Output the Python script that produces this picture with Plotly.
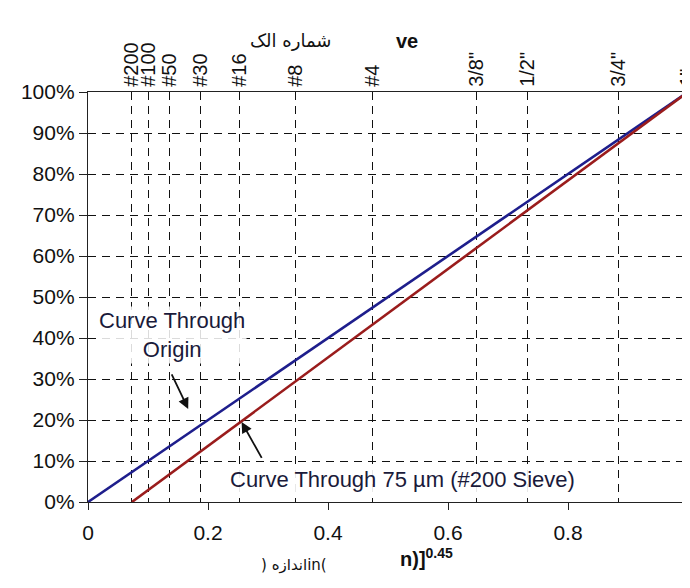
import plotly.graph_objects as go

# ---- data ----
sieve_names = ["#200", "#100", "#50", "#30", "#16", "#8", "#4", '3/8"', '1/2"', '3/4"', '1"']
sieve_mm = [0.075, 0.15, 0.3, 0.6, 1.18, 2.36, 4.75, 9.5, 12.5, 19.0, 25.0]
max_size_mm = 25.0
power = 0.45

origin_x = [0.0, 1.0]
origin_y = [0.0, 1.0]
fines_start_mm = 0.075
pass_y = [0.0, 1.0]

y_ticks = [i / 10 for i in range(11)]
x_ticks = [0, 0.2, 0.4, 0.6, 0.8, 1]
x_tick_text = ["0", "0.2", "0.4", "0.6", "0.8", "1"]

sieve_x = [(d / max_size_mm) ** power for d in sieve_mm]
fines_x = [(fines_start_mm / max_size_mm) ** power, 1.0]

FONT = "Liberation Sans, Arial, sans-serif"
BLUE = "#1e1e8c"
RED = "#9a1c1c"

fig = go.Figure()
fig.add_trace(go.Scatter(x=origin_x, y=origin_y, mode="lines",
                         line=dict(color=BLUE, width=2.6), showlegend=False))
fig.add_trace(go.Scatter(x=fines_x, y=pass_y, mode="lines",
                         line=dict(color=RED, width=2.6), showlegend=False))
# invisible trace to activate top axis
fig.add_trace(go.Scatter(x=sieve_x, y=[None] * len(sieve_x), xaxis="x2",
                         mode="markers", showlegend=False, hoverinfo="skip"))

fig.update_layout(
    width=682, height=572,
    margin=dict(l=80, r=2, t=84, b=78, autoexpand=False),
    paper_bgcolor="white", plot_bgcolor="white",
    font=dict(family=FONT, color="#111111", size=20),
    xaxis=dict(range=[0, 1], tickvals=x_ticks, ticktext=x_tick_text,
               showgrid=False, zeroline=False, showline=True, linecolor="#222222",
               linewidth=1.3, ticks="outside", ticklen=7, tickcolor="#222222",
               ticklabelstandoff=5, ticklabeloverflow="allow", automargin=False,
               tickfont=dict(size=21, family=FONT)),
    xaxis2=dict(range=[0, 1], overlaying="x", side="top", tickvals=sieve_x,
                ticktext=sieve_names, tickangle=-90, showgrid=True,
                gridcolor="#111111", gridwidth=1.3, griddash="8px,6px",
                zeroline=False, showline=True, linecolor="#222222", linewidth=1.3,
                ticks="", ticklabeloverflow="allow", automargin=False,
                tickfont=dict(size=20, family=FONT)),
    yaxis=dict(range=[0, 1], tickvals=y_ticks, tickformat=".0%", showgrid=True,
               gridcolor="#111111", gridwidth=1.3, griddash="8px,6px",
               zeroline=False, showline=True, linecolor="#222222", linewidth=1.3,
               ticks="outside", ticklen=8, tickcolor="#222222", automargin=False,
               tickfont=dict(size=21, family=FONT)),
)

fig.add_annotation(x=0.14, y=0.407, xref="x", yref="y",
                   text="Curve Through<br>Origin", showarrow=False,
                   font=dict(size=22, family=FONT, color="#1a1a3a"),
                   bgcolor="rgba(255,255,255,0.85)", align="center")
fig.add_annotation(x=0.524, y=0.056, xref="x", yref="y",
                   text="Curve Through 75 µm (#200 Sieve)", showarrow=False,
                   font=dict(size=22, family=FONT, color="#1a1a3a"),
                   bgcolor="rgba(255,255,255,0.9)")
fig.add_annotation(x=0.167, y=0.227, ax=0.132, ay=0.334, xref="x", yref="y",
                   axref="x", ayref="y", text=" ", showarrow=True,
                   arrowhead=2, arrowsize=1.2, arrowwidth=1.8, arrowcolor="#111111")
fig.add_annotation(x=0.256, y=0.195, ax=0.297, ay=0.088, xref="x", yref="y",
                   axref="x", ayref="y", text=" ", showarrow=True,
                   arrowhead=2, arrowsize=1.2, arrowwidth=1.8, arrowcolor="#111111")

fig.add_annotation(x=0.338, y=1.156, xref="paper", yref="paper",
                   text="شماره الک", showarrow=False,
                   font=dict(size=18, family="DejaVu Sans, Noto Sans", color="#111111"))
fig.add_annotation(x=0.532, y=1.156, xref="paper", yref="paper",
                   text="<b>ve</b>", showarrow=False,
                   font=dict(size=20, family=FONT, color="#111111"))
fig.add_annotation(x=0.565, y=-0.171, xref="paper", yref="paper",
                   text="<b>n)]<sup>0.45</sup></b>", showarrow=False,
                   font=dict(size=20, family=FONT, color="#111111"))
fig.add_annotation(x=0.343, y=-0.18, xref="paper", yref="paper",
                   text="\u200e) اندازهin(\u200e", showarrow=False,
                   font=dict(size=15, family="DejaVu Sans, Noto Sans", color="#111111"))

fig.write_html("out.html")
